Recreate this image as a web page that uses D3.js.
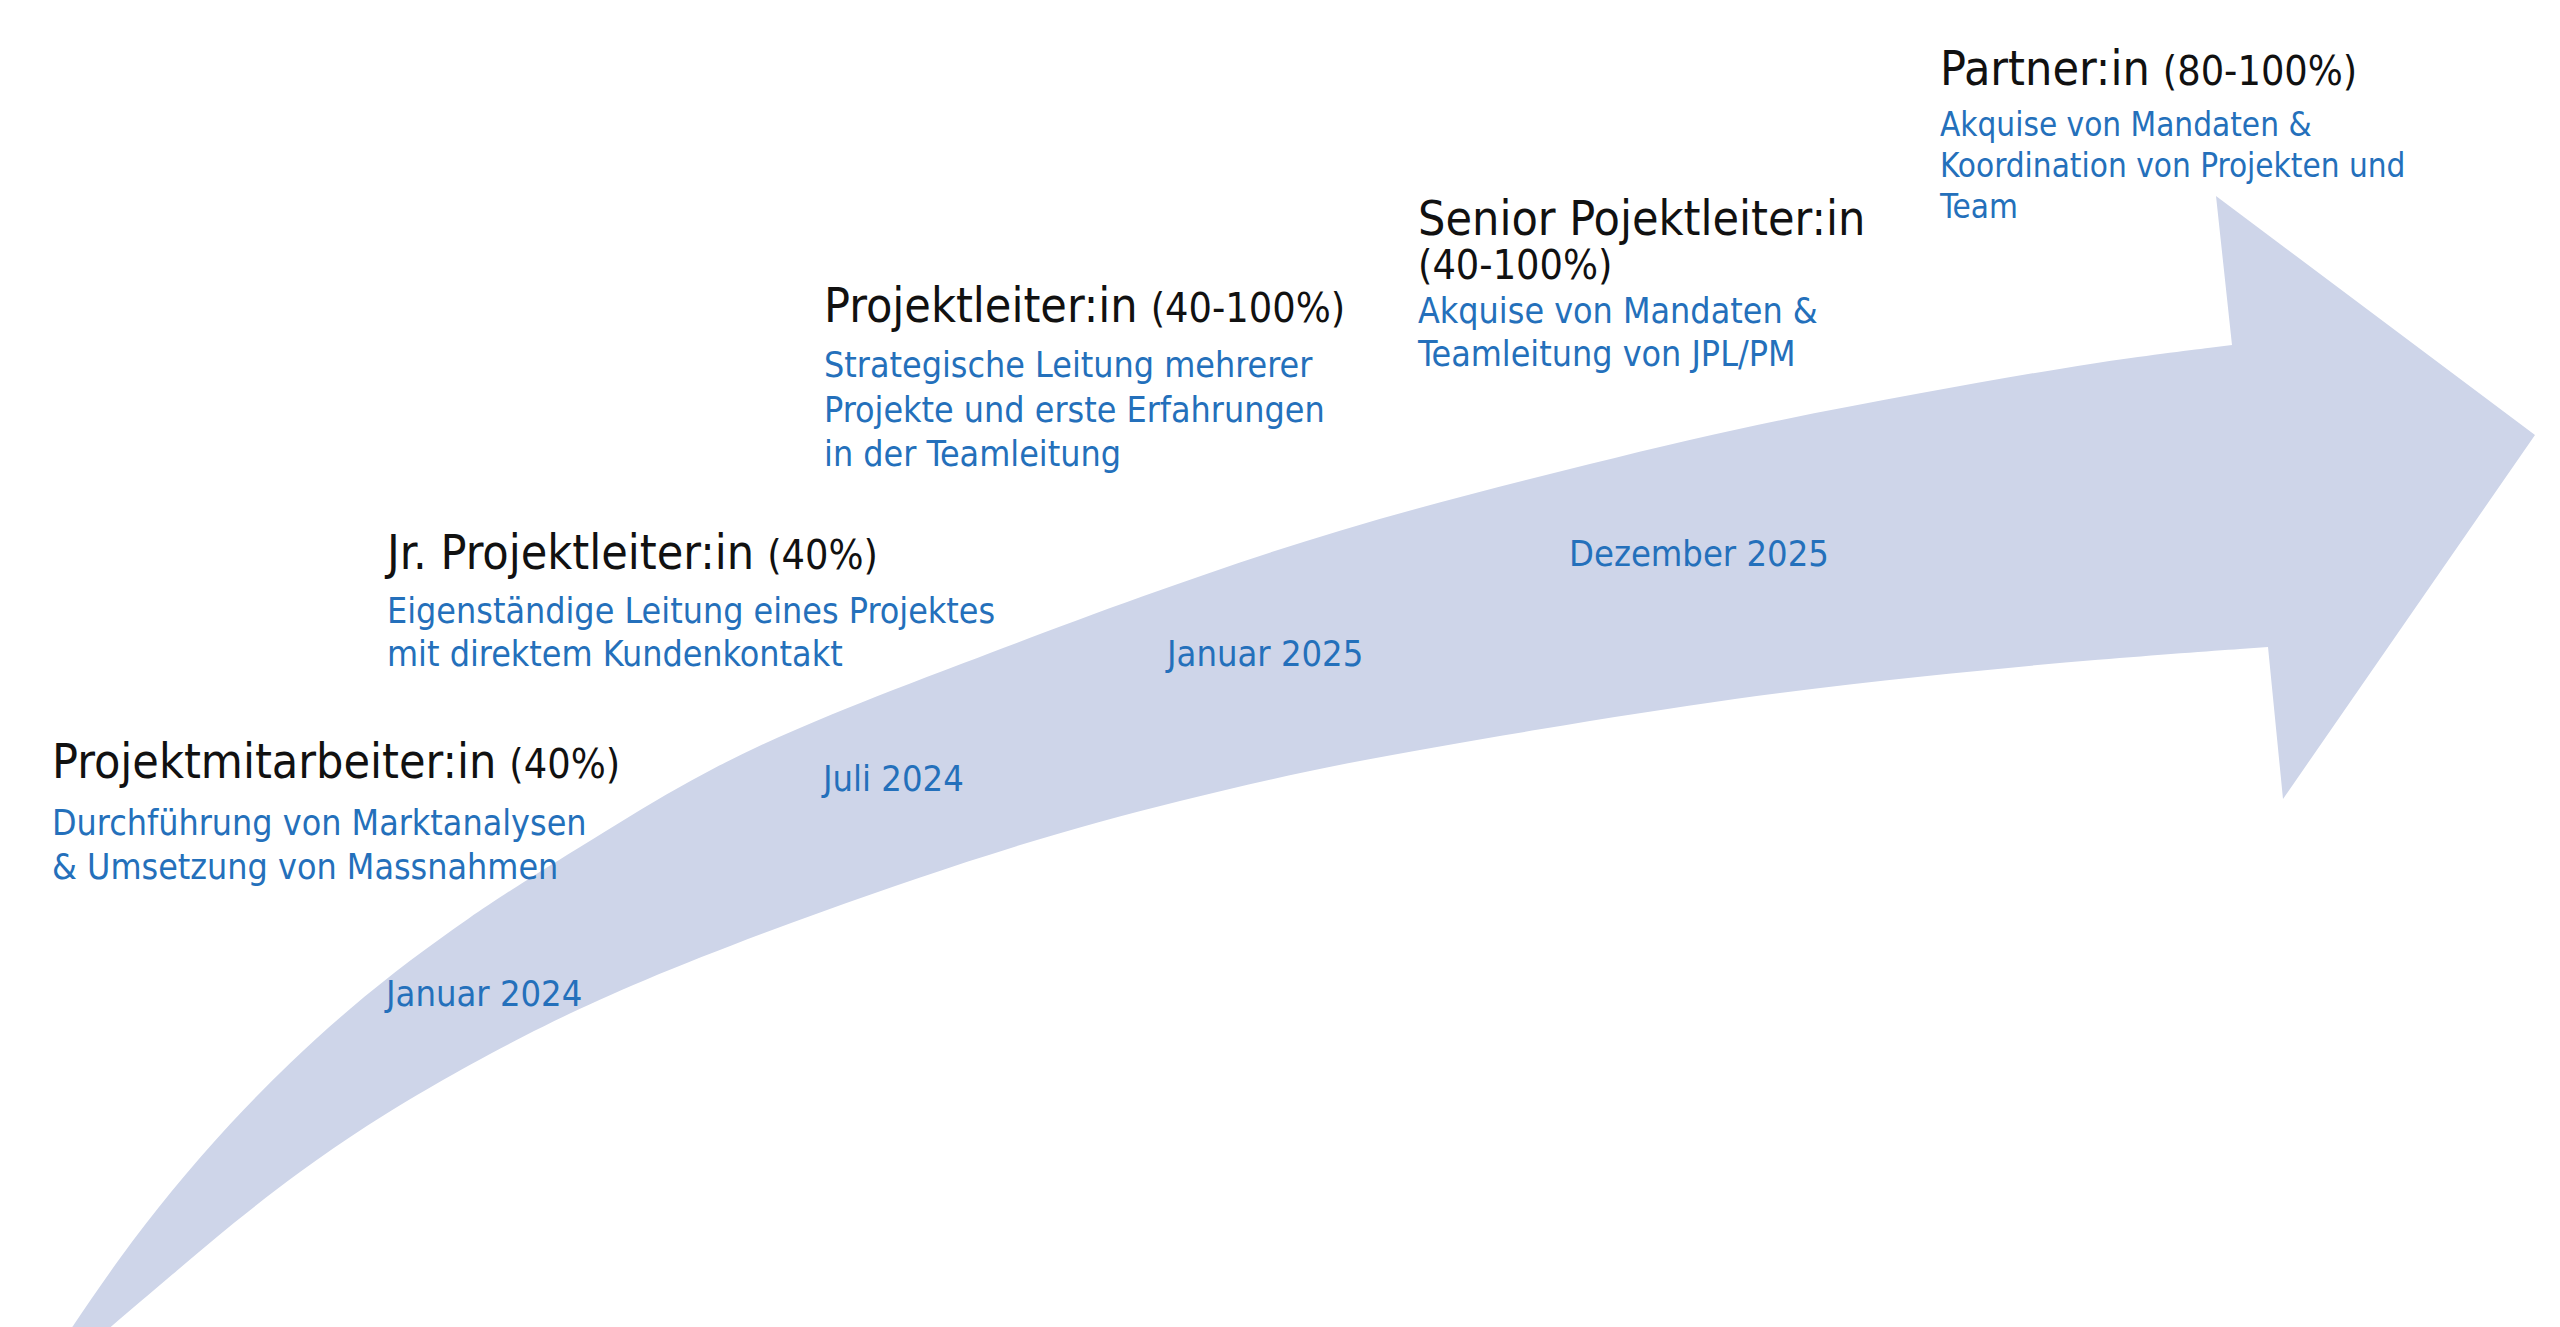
<!DOCTYPE html>
<html lang="de">
<head>
<meta charset="UTF-8">
<title>Karriereweg</title>
<script src="https://cdn.jsdelivr.net/npm/d3@7"></script>
<style>
  html, body { margin: 0; padding: 0; background: #fff; }
  svg { display: block; }
  text { font-family: "DejaVu Sans Condensed", "DejaVu Sans", sans-serif; }
</style>
</head>
<body>
<svg id="chart"></svg>

<script>
// --- data ---
var titles = ["Projektmitarbeiter:in", "Jr. Projektleiter:in", "Projektleiter:in", "Senior Pojektleiter:in", "Partner:in"];
var shares = ["(40%)", "(40%)", "(40-100%)", "(40-100%)", "(80-100%)"];
var tasks = [
  ["Durchführung von Marktanalysen", "& Umsetzung von Massnahmen"],
  ["Eigenständige Leitung eines Projektes", "mit direktem Kundenkontakt"],
  ["Strategische Leitung mehrerer", "Projekte und erste Erfahrungen", "in der Teamleitung"],
  ["Akquise von Mandaten &", "Teamleitung von JPL/PM"],
  ["Akquise von Mandaten &", "Koordination von Projekten und", "Team"]
];
var dates = ["Januar 2024", "Juli 2024", "Januar 2025", "Dezember 2025"];

// --- arrow outline, in reference frame units (2560 x 1327) ---
var upperEdge = [[37,1380],[72,1327],[120,1257],[170,1192],[230,1123],[290,1062],[350,1008],
  [410,960],[470,917],[520,884],[615,825],[717,764],[830,714],[953,667],[1140,596],[1340,528],
  [1540,476],[1740,427],[1920,393],[2100,361],[2232,345]];
var arrowHead = [[2216,196],[2535,435],[2283,799],[2268,647]];
var lowerEdge = [[2268,647],[2100,659],[1920,676],[1740,697],[1540,729],[1340,763],[1180,800],
  [1020,843],[820,911],[633,983],[520,1037],[433,1085],[367,1125],[300,1171],[233,1223],
  [173,1274],[107,1330],[70,1362]];

// --- layout (kept apart from the data) ---
var stageX = [52, 387, 824, 1418, 1940];
var titleY = [778, 569, 322, 235, 85];
var pctBreak = [false, false, false, true, false];
var taskOffset = [57, 54, 55, 44, 51];
var taskGap = [44, 43, 44.5, 43, 41];
var taskSize = [35.5, 35.5, 35.5, 35.5, 33];
var dateX = [386, 823, 1167, 1569];
var dateY = [1006, 791, 666, 566];

var W = 2560, H = 1327;
var svg = d3.select("#chart").attr("width", W).attr("height", H);

var x = d3.scaleLinear().domain([0, 2560]).range([0, W]);
var y = d3.scaleLinear().domain([0, 1327]).range([0, H]);

// arrow: smooth edges + straight head
var edge = d3.line()
  .x(function(d) { return x(d[0]); })
  .y(function(d) { return y(d[1]); })
  .curve(d3.curveBasis);

var headPart = arrowHead.map(function(p) { return "L" + x(p[0]) + "," + y(p[1]); }).join("");
var arrowPath = edge(upperEdge) + headPart + edge(lowerEdge).replace(/^M/, "L") + "Z";

svg.append("path")
  .attr("d", arrowPath)
  .attr("fill", "#ced5e9");

// dates along the arrow
svg.selectAll("text.date")
  .data(dates)
  .enter()
  .append("text")
    .attr("class", "date")
    .attr("x", function(d, i) { return x(dateX[i]); })
    .attr("y", function(d, i) { return y(dateY[i]); })
    .attr("font-size", 36)
    .attr("fill", "#2470bb")
    .text(function(d) { return d; });

// stage labels
var stage = svg.selectAll("g.stage")
  .data(titles)
  .enter()
  .append("g")
    .attr("class", "stage");

var head = stage.append("text")
  .attr("x", function(d, i) { return x(stageX[i]); })
  .attr("y", function(d, i) { return y(titleY[i]); })
  .attr("fill", "#111");

head.append("tspan")
  .attr("font-size", 48)
  .text(function(d) { return d; });

head.append("tspan")
  .attr("font-size", 41)
  .attr("x", function(d, i) { return pctBreak[i] ? x(stageX[i]) : null; })
  .attr("dx", function(d, i) { return pctBreak[i] ? 0 : 13; })
  .attr("dy", function(d, i) { return pctBreak[i] ? 44 : 0; })
  .text(function(d, i) { return shares[i]; });

stage.each(function(d, i) {
  var top = titleY[i] + (pctBreak[i] ? 44 : 0) + taskOffset[i];
  d3.select(this).selectAll("text.task")
    .data(tasks[i])
    .enter()
    .append("text")
      .attr("class", "task")
      .attr("x", x(stageX[i]))
      .attr("y", function(t, j) { return y(top + j * taskGap[i]); })
      .attr("font-size", taskSize[i])
      .attr("fill", "#2470bb")
      .text(function(t) { return t; });
});
</script>
</body>
</html>
